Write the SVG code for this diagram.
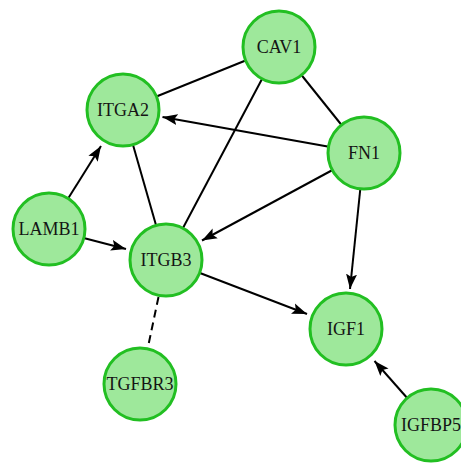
<svg xmlns="http://www.w3.org/2000/svg" width="461" height="463" viewBox="0 0 461 463">
  <style>
    .edge { stroke: #000; stroke-width: 2; fill: none; }
    .dash { stroke-dasharray: 8 5; }
    .node circle { fill: #9ee89b; stroke: #22bf22; stroke-width: 3; }
    .node text { font-family: "Liberation Serif", "Times New Roman", serif; font-size: 18px; fill: #151515; text-anchor: middle; }
  </style>
  <defs>
    <marker id="arrow" markerUnits="userSpaceOnUse" markerWidth="16" markerHeight="12" viewBox="0 -6 16 12" refX="15" refY="0" orient="auto">
      <path d="M0,-5.5 L15,0 L0,5.5 L3,0 z" fill="#000"/>
    </marker>
  </defs>
  <rect width="461" height="463" fill="#fff"/>

  <g id="edges">
    <line class="edge" x1="279" y1="47" x2="123" y2="110"/>
    <line class="edge" x1="279" y1="47" x2="364" y2="153"/>
    <line class="edge" x1="279" y1="47" x2="166" y2="260"/>
    <line class="edge" x1="123" y1="110" x2="166" y2="260"/>
    <line class="edge" x1="364" y1="153" x2="162.5" y2="117" marker-end="url(#arrow)"/>
    <line class="edge" x1="364" y1="153" x2="202" y2="240.5" marker-end="url(#arrow)"/>
    <line class="edge" x1="364" y1="153" x2="350" y2="289" marker-end="url(#arrow)"/>
    <line class="edge" x1="49" y1="229" x2="101" y2="146" marker-end="url(#arrow)"/>
    <line class="edge" x1="49" y1="229" x2="126" y2="249" marker-end="url(#arrow)"/>
    <line class="edge" x1="166" y1="260" x2="307" y2="314" marker-end="url(#arrow)"/>
    <line class="edge" x1="431" y1="425" x2="374.5" y2="361" marker-end="url(#arrow)"/>
    <line class="edge dash" x1="158.5" y1="297" x2="148" y2="347"/>
  </g>

  <g id="CAV1" class="node"><circle cx="279" cy="47" r="36"/><text x="279" y="53">CAV1</text></g>
  <g id="ITGA2" class="node"><circle cx="123" cy="110" r="36"/><text x="123" y="116">ITGA2</text></g>
  <g id="FN1" class="node"><circle cx="364" cy="153" r="36"/><text x="364" y="159">FN1</text></g>
  <g id="LAMB1" class="node"><circle cx="49" cy="229" r="36"/><text x="49" y="235">LAMB1</text></g>
  <g id="ITGB3" class="node"><circle cx="166" cy="260" r="36"/><text x="166" y="266">ITGB3</text></g>
  <g id="IGF1" class="node"><circle cx="346" cy="329" r="36"/><text x="346" y="335">IGF1</text></g>
  <g id="TGFBR3" class="node"><circle cx="140" cy="384" r="36"/><text x="140" y="390">TGFBR3</text></g>
  <g id="IGFBP5" class="node"><circle cx="431" cy="425" r="36"/><text x="431" y="431">IGFBP5</text></g>
</svg>
